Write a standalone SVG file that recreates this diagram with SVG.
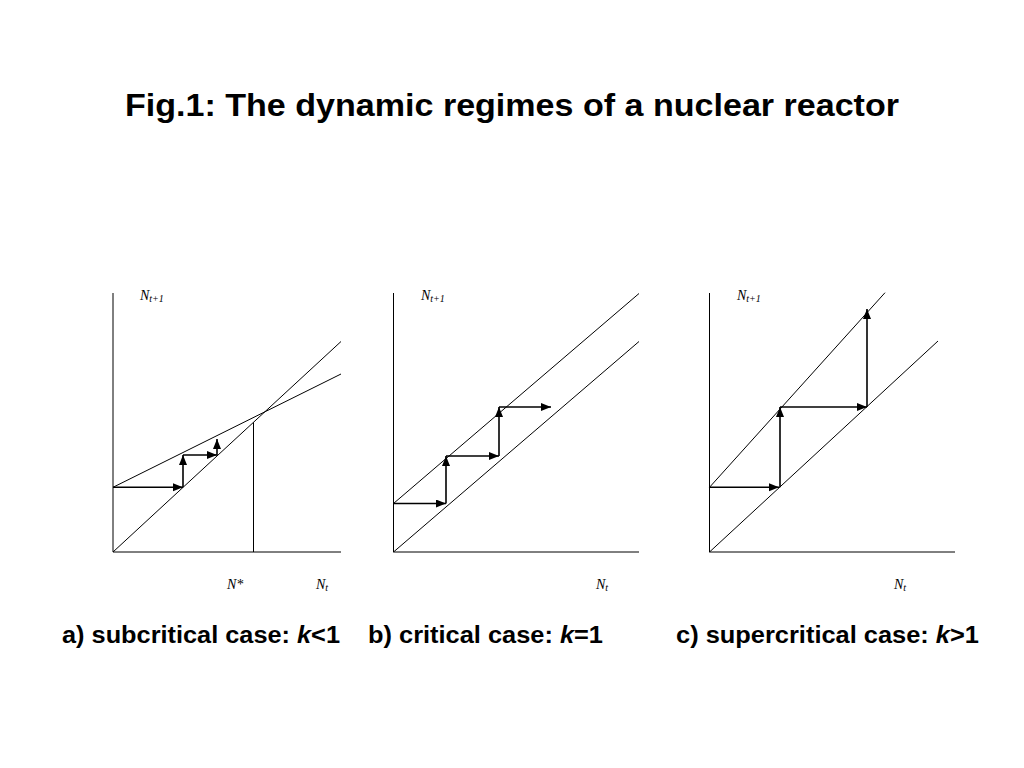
<svg xmlns="http://www.w3.org/2000/svg" width="1024" height="768" viewBox="0 0 1024 768">
<style>
.ax{stroke:#000;stroke-width:1;fill:none}
.ar{stroke:#000;stroke-width:1.6;fill:none;marker-end:url(#ah)}
.lb{font-family:"Liberation Serif","Times New Roman",serif;font-style:italic;font-size:14px;fill:#000}
.sb{font-size:10px}
.cap{font-family:"Liberation Sans",Arial,sans-serif;font-weight:bold;font-size:23px;fill:#000}
.ttl{font-family:"Liberation Sans",Arial,sans-serif;font-weight:bold;font-size:31px;fill:#000}
</style>
<defs>
<marker id="ah" markerUnits="userSpaceOnUse" markerWidth="11" markerHeight="9" refX="10" refY="4" orient="auto" viewBox="0 0 11 9">
<path d="M0,0 L10,4 L0,8 z" fill="#000"/>
</marker>
</defs>
<rect width="1024" height="768" fill="#fff"/>
<text class="ttl" x="125" y="116" textLength="774" lengthAdjust="spacingAndGlyphs">Fig.1: The dynamic regimes of a nuclear reactor</text>

<g id="panel-a">
<path class="ax" d="M113,293 L113,552 L341,552"/>
<path class="ax" d="M113,552 L341,341.5"/>
<path class="ax" d="M113,487.3 L341,374"/>
<path class="ax" d="M253.5,552 L253.5,422.5"/>
<text class="lb" x="140" y="300">N<tspan class="sb" dy="2">t+1</tspan></text>
<text class="lb" x="227" y="589">N*</text>
<text class="lb" x="316" y="589">N<tspan class="sb" dy="2">t</tspan></text>
<text class="cap" x="62" y="643" textLength="278" lengthAdjust="spacingAndGlyphs">a) subcritical case: <tspan font-style="italic">k</tspan>&lt;1</text>
</g>

<g id="panel-b">
<path class="ax" d="M393.5,293 L393.5,552 L639,552"/>
<path class="ax" d="M393.5,552 L639,341.5"/>
<path class="ax" d="M393.5,503.5 L639,293.5"/>
<text class="lb" x="421" y="300">N<tspan class="sb" dy="2">t+1</tspan></text>
<text class="lb" x="596" y="589">N<tspan class="sb" dy="2">t</tspan></text>
<text class="cap" x="368" y="643" textLength="235" lengthAdjust="spacingAndGlyphs">b) critical case: <tspan font-style="italic">k</tspan>=1</text>
</g>

<g id="panel-c">
<path class="ax" d="M709.5,293 L709.5,552 L955,552"/>
<path class="ax" d="M709.5,552 L938,341"/>
<path class="ax" d="M709.5,487.3 L885,292.7"/>
<text class="lb" x="737" y="300">N<tspan class="sb" dy="2">t+1</tspan></text>
<text class="lb" x="894" y="589">N<tspan class="sb" dy="2">t</tspan></text>
<text class="cap" x="676" y="643" textLength="303" lengthAdjust="spacingAndGlyphs">c) supercritical case: <tspan font-style="italic">k</tspan>&gt;1</text>
</g>

<g id="connectors">
<path class="ar" d="M113,487.3 L183,487.3"/>
<path class="ar" d="M183,487.3 L183,455"/>
<path class="ar" d="M183,455 L217,455"/>
<path class="ar" d="M217,455 L217,439"/>

<path class="ar" d="M393.5,503.5 L446,503.5"/>
<path class="ar" d="M446,503.5 L446,456"/>
<path class="ar" d="M446,456 L499,456"/>
<path class="ar" d="M499,456 L499,407"/>
<path class="ar" d="M499,407 L551,407"/>

<path class="ar" d="M709.5,487.3 L779,487.3"/>
<path class="ar" d="M780,487.3 L780,407"/>
<path class="ar" d="M780,407 L867,407"/>
<path class="ar" d="M867,407 L867,309"/>
</g>
</svg>
